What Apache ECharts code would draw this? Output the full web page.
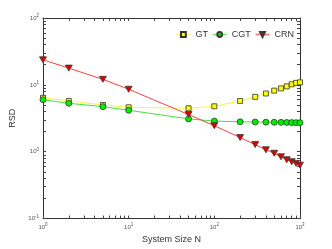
<!DOCTYPE html>
<html><head><meta charset="utf-8">
<script src="https://cdn.jsdelivr.net/npm/echarts@6/dist/echarts.min.js"></script>
<style>html,body{margin:0;padding:0;background:#fff}#c{width:332px;height:249px}</style>
</head><body><div id="c"></div>
<script>
const sizes = [1, 2, 5, 10, 50, 100, 200, 300, 400, 500, 600, 700, 800, 900, 1000];
const gt  = [6.4, 5.75, 5.0, 4.62, 4.47, 4.78, 5.75, 6.62, 7.43, 8.2, 8.85, 9.5, 10.2, 10.7, 10.9];
const cgt = [6.0, 5.3, 4.72, 4.17, 3.1, 2.87, 2.8, 2.78, 2.77, 2.76, 2.75, 2.74, 2.73, 2.72, 2.72];
const crn = [23.7, 17.8, 12.1, 8.6, 3.6, 2.45, 1.63, 1.28, 1.07, 0.95, 0.84, 0.76, 0.71, 0.67, 0.63];
const xMajor = [1, 10, 100, 1000];
const yMajor = [0.1, 1, 10, 100];
const xTicks = [1,2,3,4,5,6,7,8,9,10,20,30,40,50,60,70,80,90,100,200,300,400,500,600,700,800,900,1000];
const yTicks = [0.1,0.2,0.3,0.4,0.5,0.6,0.7,0.8,0.9,1,2,3,4,5,6,7,8,9,10,20,30,40,50,60,70,80,90,100];

const FONT = 'Liberation Sans';
const pow = v => { const e = Math.round(Math.log10(v)); return '{b|10}{s|' + e + '}'; };
const rich = {
  b: {fontSize: 6, color: '#555', fontFamily: FONT},
  s: {fontSize: 4.5, color: '#555', fontFamily: FONT, padding: [0, 0, 4, 0]}
};
function logAxis(pos, main, min, max, ticks) {
  return {
    type: 'log', logBase: 10, min: min, max: max, position: pos,
    axisLine: {show: true, lineStyle: {color: '#333', width: 1}},
    axisTick: {show: true, inside: true, length: 3, customValues: ticks, lineStyle: {color: '#444'}},
    minorTick: {show: false},
    splitLine: {show: false},
    axisLabel: {show: main, formatter: pow, rich: rich, margin: 4, fontFamily: FONT, customValues: main ? (pos === 'bottom' ? xMajor : yMajor) : undefined}
  };
}
const xA0 = logAxis('bottom', true, 1, 1000, xTicks);
xA0.name = 'System Size N'; xA0.nameLocation = 'middle'; xA0.nameGap = 15;
xA0.nameTextStyle = {fontSize: 9, color: '#333', fontFamily: FONT};
const yA0 = logAxis('left', true, 0.1, 100, yTicks);
yA0.name = 'RSD'; yA0.nameLocation = 'middle'; yA0.nameGap = 19;
yA0.nameTextStyle = {fontSize: 9, color: '#333', fontFamily: FONT};

const tri = 'path://M0,0 L10,0 L5,9 Z';
const chart = echarts.init(document.getElementById('c'), null, {renderer: 'canvas'});
chart.setOption({
  animation: false,
  backgroundColor: '#fff',
  grid: {left: 43, right: 32, top: 18, bottom: 28},
  legend: {
    right: 33, top: 25, itemWidth: 14, itemHeight: 6, itemGap: 4,
    lineStyle: {width: 1.6, opacity: 0.75},
    textStyle: {fontSize: 9, color: '#333', fontFamily: FONT},
    data: ['GT', 'CGT', 'CRN']
  },
  xAxis: [xA0, logAxis('top', false, 1, 1000, xTicks)],
  yAxis: [yA0, logAxis('right', false, 0.1, 100, yTicks)],
  series: [
    {name: 'GT', type: 'line', data: sizes.map((x, i) => [x, gt[i]]),
     symbol: 'rect', symbolSize: 5,
     lineStyle: {color: '#f5f545', width: 1},
     itemStyle: {color: '#ffff00', borderColor: '#333', borderWidth: 0.8}},
    {name: 'CGT', type: 'line', data: sizes.map((x, i) => [x, cgt[i]]),
     symbol: 'circle', symbolSize: 6,
     lineStyle: {color: '#44e044', width: 1},
     itemStyle: {color: '#00ee00', borderColor: '#3a3a3a', borderWidth: 0.8}},
    {name: 'CRN', type: 'line', data: sizes.map((x, i) => [x, crn[i]]),
     symbol: tri, symbolSize: [7, 6],
     lineStyle: {color: '#ff4040', width: 1},
     itemStyle: {color: '#e00000', borderColor: '#3a3a3a', borderWidth: 0.8}}
  ]
});
</script></body></html>
